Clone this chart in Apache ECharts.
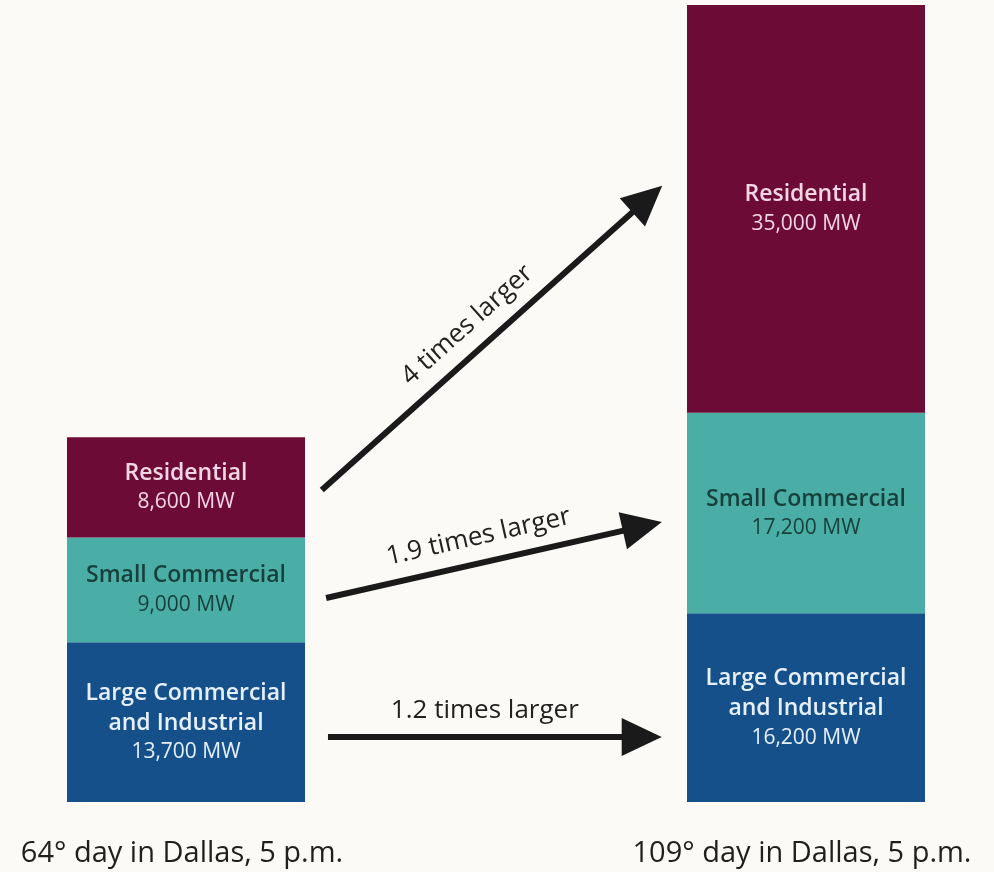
<!DOCTYPE html>
<html>
<head>
<meta charset="utf-8">
<script src="https://cdn.jsdelivr.net/npm/echarts@6/dist/echarts.min.js"></script>
<style>
  html, body { margin: 0; padding: 0; background: #fbfaf6; }
  #chart { width: 994px; height: 872px; }
</style>
</head>
<body>
<div id="chart"></div>
<script>
// Two afternoons in Dallas: demand by customer class (MW)
const days = ['64° day in Dallas, 5 p.m.', '109° day in Dallas, 5 p.m.'];
const largeCommercial = [13700, 16200];
const smallCommercial = [9000, 17200];
const residential = [8600, 35000];

const segmentNames = {
  large: ['Large Commercial', 'and Industrial'],
  small: ['Small Commercial'],
  residential: ['Residential']
};

// Growth arrows between the two bars (x in bar-index units, y in MW)
const arrowLabels = ['4 times larger', '1.9 times larger', '1.2 times larger'];
const arrowFrom = [[0.219, 26780], [0.226, 17510], [0.229, 5580]];
const arrowTo = [[0.744, 51750], [0.736, 23650], [0.735, 5580]];

const FONT = '"Open Sans", "DejaVu Sans", sans-serif';

function segmentLabel(lines, textColor) {
  return {
    show: true,
    position: 'inside',
    color: textColor,
    fontFamily: FONT,
    formatter: function (p) {
      const v = p.value.toLocaleString('en-US') + ' MW';
      return lines.map(function (l) { return '{t|' + l + '}'; }).join('\n') + '\n{v|' + v + '}';
    },
    rich: {
      t: { fontSize: 23, fontWeight: 600, lineHeight: 30, fontFamily: FONT, color: textColor },
      v: { fontSize: 21, fontWeight: 400, lineHeight: 28, fontFamily: FONT, color: textColor }
    }
  };
}

const arrowData = arrowLabels.map(function (label, i) {
  return [
    { coord: arrowFrom[i], name: label },
    { coord: arrowTo[i] }
  ];
});

const chart = echarts.init(document.getElementById('chart'), null, { renderer: 'canvas' });

const option = {
  backgroundColor: '#fbfaf6',
  animation: false,
  // The grid spans from one bar centre to the other; bars overhang its edges.
  grid: { left: 186, right: 188, top: 5, bottom: 70 },
  xAxis: [
    { type: 'category', data: days, boundaryGap: false, show: false },
    { type: 'value', min: 0, max: 1, show: false }
  ],
  yAxis: { type: 'value', min: 0, max: 68400, show: false },
  series: [
    {
      name: 'Large Commercial and Industrial',
      type: 'bar',
      stack: 'load',
      barWidth: 238,
      data: largeCommercial,
      itemStyle: { color: '#15508a' },
      label: segmentLabel(segmentNames.large, '#e6f0fb')
    },
    {
      name: 'Small Commercial',
      type: 'bar',
      stack: 'load',
      barWidth: 238,
      data: smallCommercial,
      itemStyle: { color: '#4aaea6' },
      label: segmentLabel(segmentNames.small, '#173f3b')
    },
    {
      name: 'Residential',
      type: 'bar',
      stack: 'load',
      barWidth: 238,
      data: residential,
      itemStyle: { color: '#6b0b36' },
      label: segmentLabel(segmentNames.residential, '#f4d6e3')
    },
    {
      name: 'Growth',
      type: 'line',
      xAxisIndex: 1,
      data: [],
      markLine: {
        silent: true,
        symbol: ['none', 'triangle'],
        symbolSize: [38, 40],
        lineStyle: { color: '#1a1a1a', width: 6, type: 'solid' },
        label: {
          show: true,
          position: 'insideMiddleTop',
          formatter: '{b}',
          color: '#222222',
          fontFamily: FONT,
          fontSize: 26,
          fontWeight: 500,
          distance: 13
        },
        data: arrowData
      }
    }
  ]
};

chart.setOption(option);

// Day captions centred under each bar
const captions = days.map(function (d, i) {
  const p = chart.convertToPixel({ xAxisIndex: 0, yAxisIndex: 0 }, [i, 0]);
  return {
    type: 'text',
    x: p[0] - 4,
    y: 854,
    style: {
      text: d,
      fill: '#1f1f1f',
      font: '500 29px ' + FONT,
      align: 'center',
      verticalAlign: 'middle'
    }
  };
});
chart.setOption({ graphic: captions });
</script>
</body>
</html>
